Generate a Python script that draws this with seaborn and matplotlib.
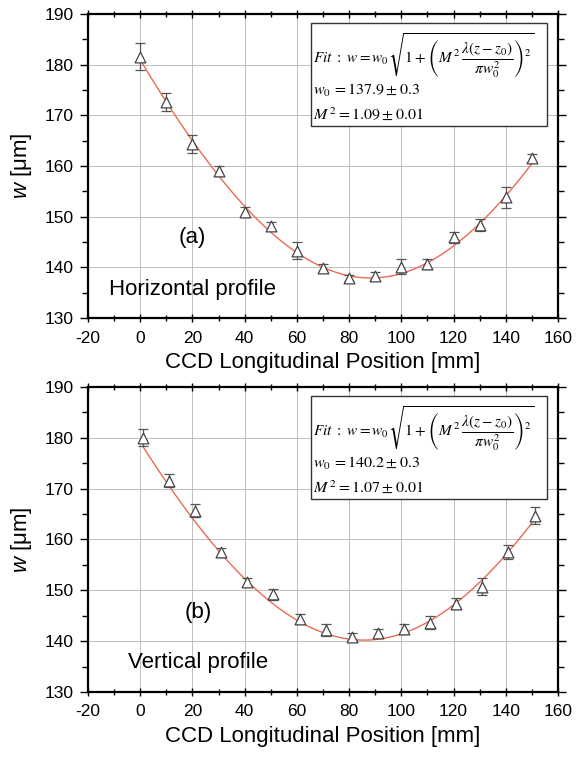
import numpy as np
import pandas as pd
import matplotlib
matplotlib.use("Agg")
import matplotlib.pyplot as plt
import seaborn as sns
from matplotlib.patches import Rectangle
from matplotlib.ticker import MultipleLocator

# ---------------- data ----------------
z_h = [0, 10, 20, 30, 40, 50, 60, 70, 80, 90, 100, 110, 120, 130, 140, 150]
w_h = [181.6, 172.6, 164.4, 159.1, 150.9, 148.1, 143.3, 139.8, 137.9, 138.3,
       140.1, 140.6, 145.9, 148.3, 153.8, 161.5]
e_h = [2.7, 1.75, 1.8, 1.0, 1.0, 0.8, 1.65, 0.8, 0.65, 0.8, 1.45, 1.0, 1.1,
       1.15, 2.15, 0.8]

z_v = [1, 11, 21, 31, 41, 51, 61, 71, 81, 91, 101, 111, 121, 131, 141, 151]
w_v = [180.0, 171.6, 165.7, 157.5, 151.6, 149.2, 144.3, 142.2, 140.9, 141.6,
       142.4, 143.6, 147.4, 150.7, 157.6, 164.7]
e_v = [1.65, 1.25, 1.2, 0.9, 0.75, 1.05, 1.0, 1.25, 0.7, 0.85, 0.9, 1.3, 1.0,
       1.65, 1.4, 1.65]

# fit parameters (beam waist, waist position, Rayleigh-like range)
fit_h = dict(w0=137.9, z0=88.2, zr=103.8, M2="1.09", w0_txt="137.9", dw0="0.3", dM2="0.01")
fit_v = dict(w0=140.2, z0=85.7, zr=107.8, M2="1.07", w0_txt="140.2", dw0="0.3", dM2="0.01")

panel_tags = ["(a)", "(b)"]
panel_names = ["Horizontal profile", "Vertical profile"]
x_ticks = [-20, 0, 20, 40, 60, 80, 100, 120, 140, 160]
y_ticks = [130, 140, 150, 160, 170, 180, 190]

# ---------------- style ----------------
sns.set_theme(style="ticks")
plt.rcParams["font.family"] = ["Liberation Sans", "DejaVu Sans"]
plt.rcParams["mathtext.fontset"] = "custom"
plt.rcParams["mathtext.it"] = "Liberation Sans:italic"
plt.rcParams["mathtext.rm"] = "Liberation Sans"
plt.rcParams["axes.unicode_minus"] = False
for k in ["text.color", "axes.labelcolor", "xtick.color", "ytick.color"]:
    plt.rcParams[k] = "black"

fig = plt.figure(figsize=(5.84, 7.57), dpi=100)
ax_top = fig.add_axes([0.1507, 0.5799, 0.8048, 0.4016])
ax_bot = fig.add_axes([0.1507, 0.0859, 0.8048, 0.4029])

def draw(ax, z, w, e, fit, tag, name, tag_xy, name_xy):
    ax.set_xlim(-20, 160)
    ax.set_ylim(130, 190)
    ax.set_xticks(x_ticks)
    ax.set_yticks(y_ticks)
    ax.xaxis.set_minor_locator(MultipleLocator(10))
    ax.yaxis.set_minor_locator(MultipleLocator(5))
    ax.grid(True, which="major", color="#bdbdbd", lw=0.7, ls="-")
    ax.set_axisbelow(True)
    for s in ax.spines.values():
        s.set_linewidth(1.6)
        s.set_color("black")
    ax.tick_params(axis="x", which="both", direction="inout", top=True,
                   labelsize=12.5, width=1.0, pad=6)
    ax.tick_params(axis="y", which="both", direction="out", right=True,
                   labelsize=12.5, width=1.0, pad=4)
    ax.tick_params(which="major", length=6)
    ax.tick_params(which="minor", length=4)

    # fit curve
    zz = np.linspace(min(z), max(z), 300)
    ww = fit["w0"] * np.sqrt(1 + ((zz - fit["z0"]) / fit["zr"]) ** 2)
    df_fit = pd.DataFrame({"z": zz, "w": ww})
    sns.lineplot(data=df_fit, x="z", y="w", ax=ax, color="#ec6a55", lw=1.0, zorder=3)

    # error bars + markers
    ax.errorbar(z, w, yerr=e, fmt="none", ecolor="#555555", elinewidth=0.9,
                capsize=3.5, capthick=0.9, zorder=4)
    df = pd.DataFrame({"z": z, "w": w})
    sns.scatterplot(data=df, x="z", y="w", ax=ax, marker="^", s=60,
                    facecolor="white", edgecolor="#444444", linewidth=0.9, zorder=5)

    ax.set_xlabel("CCD Longitudinal Position [mm]", fontsize=16, labelpad=5)
    ax.set_ylabel(r"$w$ [μm]", fontsize=16, labelpad=8)

    ax.text(tag_xy[0], tag_xy[1], tag, fontsize=16, ha="center", va="center")
    ax.text(name_xy[0], name_xy[1], name, fontsize=16, ha="left", va="center")

    # formula box
    ax.add_patch(Rectangle((0.4735, 0.632), 0.5035, 0.339, transform=ax.transAxes,
                           facecolor="white", edgecolor="#333333", lw=1.0, zorder=6))
    fs = 11
    ax.text(0.479, 0.865,
            r"$Fit\ :\ w = w_0\sqrt{1+\left(M^{\,2}\,\dfrac{\lambda(z-z_0)}{\pi w_0^2}\right)^2}$",
            transform=ax.transAxes, fontsize=fs, ha="left", va="center",
            math_fontfamily="stix", zorder=7)
    ax.text(0.479, 0.75, r"$w_0\, = %s \pm %s$" % (fit["w0_txt"], fit["dw0"]),
            transform=ax.transAxes, fontsize=fs + 0.5, ha="left", va="center",
            math_fontfamily="stix", zorder=7)
    ax.text(0.479, 0.673, r"$M^{\,2} = %s \pm %s$" % (fit["M2"], fit["dM2"]),
            transform=ax.transAxes, fontsize=fs + 0.5, ha="left", va="center",
            math_fontfamily="stix", zorder=7)

draw(ax_top, z_h, w_h, e_h, fit_h, panel_tags[0], panel_names[0], (19.8, 145.9), (-11.9, 135.7))
draw(ax_bot, z_v, w_v, e_v, fit_v, panel_tags[1], panel_names[1], (22.3, 145.7), (-4.6, 135.7))

fig.savefig("out.png", dpi=100)
